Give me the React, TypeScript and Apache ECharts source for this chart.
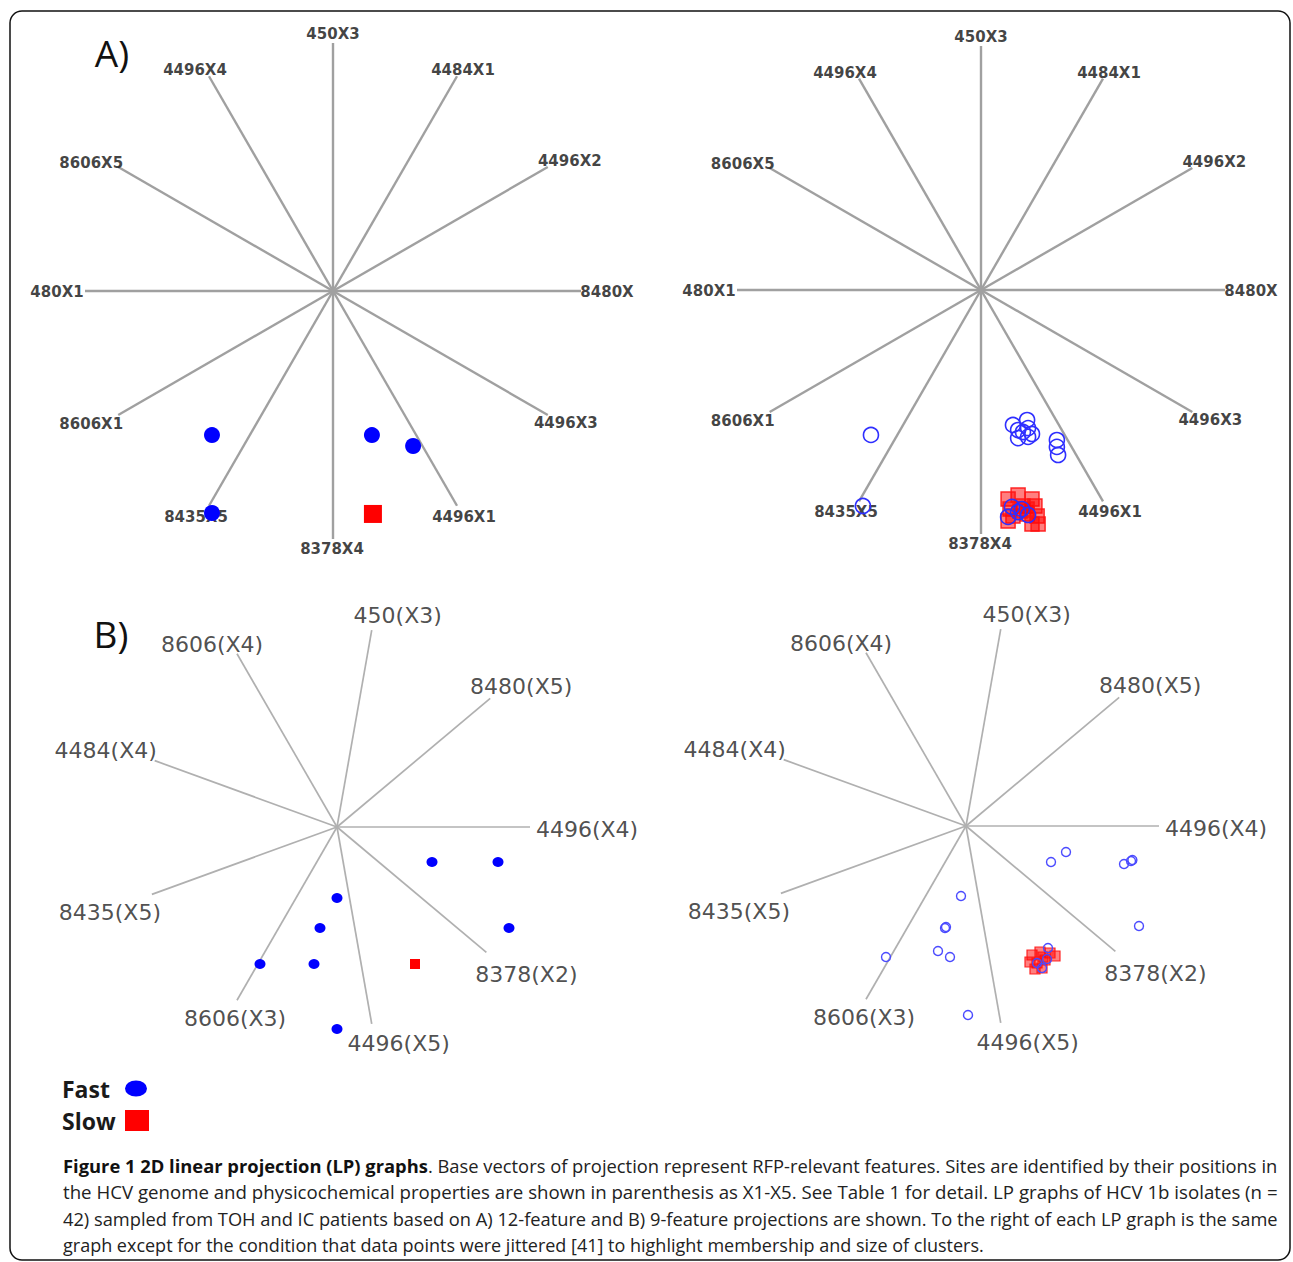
import React, { useEffect, useRef } from 'react';
import * as echarts from 'echarts';

// ---------- DATA ----------
// Panel A: 12 base vectors (angle in degrees, length in projection units)
const labelsA = ['8480X', '4496X2', '4484X1', '450X3', '4496X4', '8606X5', '480X1', '8606X1', '8435X5', '8378X4', '4496X1', '4496X3'];
const anglesA = [0, 30, 60, 90, 120, 150, 180, 210, 240, 270, 300, 330];
const lengthsA = [1, 1, 1, 1, 1, 1, 1, 1, 1, 1, 1, 1];

// Panel B: 9 base vectors
const labelsB = ['4496(X4)', '8480(X5)', '450(X3)', '8606(X4)', '4484(X4)', '8435(X5)', '8606(X3)', '4496(X5)', '8378(X2)'];
const anglesB = [0, 40, 80, 120, 160, 200, 240, 280, 320];
const lengthsB = [0.965, 1, 1, 1, 0.97, 0.985, 1, 1, 0.975];

// Projected isolates, panel A (12-feature)
const fastA = [[-0.488, -0.581], [0.157, -0.581], [0.323, -0.625], [-0.488, -0.895]];
const slowA = [[0.161, -0.899]];

// Panel A, jittered
const fastAJ = [
  [-0.451, -0.594], [-0.484, -0.885],
  [0.131, -0.553], [0.189, -0.533], [0.152, -0.574], [0.193, -0.566], [0.209, -0.59], [0.152, -0.607], [0.193, -0.602], [0.172, -0.582],
  [0.311, -0.615], [0.311, -0.643], [0.316, -0.676],
  [0.127, -0.889], [0.168, -0.898], [0.193, -0.922], [0.111, -0.93], [0.152, -0.91],
];
const slowAJ = [
  [0.152, -0.84], [0.111, -0.857], [0.209, -0.857], [0.119, -0.898], [0.172, -0.885], [0.221, -0.885], [0.131, -0.926],
  [0.189, -0.918], [0.23, -0.926], [0.111, -0.947], [0.209, -0.959], [0.234, -0.959], [0.16, -0.906], [0.189, -0.898],
];

// Projected isolates, panel B (9-feature)
const fastB = [[0.475, -0.175], [0.805, -0.175], [0, -0.355], [-0.085, -0.505], [0.86, -0.505], [-0.385, -0.685], [-0.115, -0.685], [0, -1.01]];
const slowB = [[0.39, -0.685]];

// Panel B, jittered
const fastBJ = [
  [0.425, -0.18], [0.5, -0.13], [0.79, -0.19], [0.825, -0.175], [0.832, -0.17], [-0.025, -0.35], [-0.105, -0.51], [-0.1, -0.505],
  [-0.14, -0.625], [-0.08, -0.655], [-0.4, -0.655], [0.865, -0.5], [0.01, -0.945],
  [0.41, -0.61], [0.405, -0.665], [0.355, -0.685], [0.38, -0.71],
];
const slowBJ = [
  [0.33, -0.645], [0.37, -0.63], [0.445, -0.65], [0.32, -0.68], [0.355, -0.685], [0.395, -0.67], [0.345, -0.715],
  [0.38, -0.71], [0.42, -0.635], [0.385, -0.655],
];

const captionBold = 'Figure 1 2D linear projection (LP) graphs';
const captionLines = [
  '. Base vectors of projection represent RFP-relevant features. Sites are identified by their positions in',
  'the HCV genome and physicochemical properties are shown in parenthesis as X1-X5. See Table 1 for detail. LP graphs of HCV 1b isolates (n =',
  '42) sampled from TOH and IC patients based on A) 12-feature and B) 9-feature projections are shown. To the right of each LP graph is the same',
  'graph except for the condition that data points were jittered [41] to highlight membership and size of clusters.',
];

// ---------- LAYOUT (pixels) ----------
const panelLayout = [
  { cx: 333, cy: 291, unit: 248 },
  { cx: 981, cy: 290, unit: 244 },
  { cx: 337, cy: 827, unit: 200 },
  { cx: 966, cy: 826, unit: 200 },
];
const labelOffsetsA = [[26, 1], [22, -6], [6, -6], [0, -9], [-14, -6], [-27, -4], [-28, 1], [-27, 9], [-13, 11], [-1, 10], [7, 11], [18, 8]];
const labelOffsetsB = [[57, 2], [31, -12], [26, -15], [-25, -9], [-49, -10], [-42, 18], [-2, 18], [27, 20], [40, 22]];
const SPAN = 1.1;
const CAPTION_WIDTH = 1215;

export default function App() {
  const ref = useRef<HTMLDivElement>(null);
  useEffect(() => {
    document.body.style.margin = '0';
    const chart = echarts.init(ref.current!, undefined, { renderer: 'svg' });

    const grids = panelLayout.map((p) => ({
      left: p.cx - p.unit * SPAN,
      top: p.cy - p.unit * SPAN,
      width: 2 * p.unit * SPAN,
      height: 2 * p.unit * SPAN,
    }));
    const axisCfg = panelLayout.map((_, i) => ({
      type: 'value', gridIndex: i, min: -SPAN, max: SPAN, show: false,
    }));

    const rad = (d: number) => (d * Math.PI) / 180;
    const baseVectors = (i: number, labels: string[], angles: number[], lengths: number[], offsets: number[][], isA: boolean) => {
      const ends = angles.map((a, j) => [lengths[j] * Math.cos(rad(a)), lengths[j] * Math.sin(rad(a))]);
      return [
        {
          type: 'lines', coordinateSystem: 'cartesian2d', xAxisIndex: i, yAxisIndex: i, silent: true, z: 1, clip: false,
          lineStyle: { color: isA ? '#a0a0a0' : '#b0b0b0', width: isA ? 2.4 : 1.7, opacity: 1 },
          data: ends.map((e) => ({ coords: [[0, 0], e] })),
        },
        {
          type: 'scatter', xAxisIndex: i, yAxisIndex: i, silent: true, z: 2, clip: false, symbolSize: 1,
          itemStyle: { color: 'rgba(0,0,0,0)' },
          label: {
            show: true, position: 'inside', formatter: '{b}',
            fontFamily: 'DejaVu Sans', fontSize: isA ? 15 : 22, fontWeight: isA ? 'bold' : 'normal', color: isA ? '#111' : '#222',
          },
          data: ends.map((e, j) => ({ name: labels[j], value: e, label: { offset: offsets[j] } })),
        },
      ];
    };

    const series: any[] = [
      ...baseVectors(0, labelsA, anglesA, lengthsA, labelOffsetsA, true),
      ...baseVectors(1, labelsA, anglesA, lengthsA, labelOffsetsA, true),
      ...baseVectors(2, labelsB, anglesB, lengthsB, labelOffsetsB, false),
      ...baseVectors(3, labelsB, anglesB, lengthsB, labelOffsetsB, false),
      // Panel A
      { name: 'Slow', type: 'scatter', xAxisIndex: 0, yAxisIndex: 0, z: 3, clip: false, symbol: 'rect', symbolSize: 18, itemStyle: { color: '#ff0000', opacity: 1 }, data: slowA },
      { name: 'Fast', type: 'scatter', xAxisIndex: 0, yAxisIndex: 0, z: 3, clip: false, symbol: 'circle', symbolSize: 16, itemStyle: { color: '#0000ff', opacity: 1 }, data: fastA },
      // Panel A jittered
      { name: 'Slow (jittered A)', type: 'scatter', xAxisIndex: 1, yAxisIndex: 1, z: 3, clip: false, symbol: 'rect', symbolSize: 14, itemStyle: { color: 'rgba(255,0,0,0.5)', borderColor: 'rgba(255,20,20,0.9)', borderWidth: 1.5, opacity: 1 }, data: slowAJ },
      { name: 'Fast (jittered A)', type: 'scatter', xAxisIndex: 1, yAxisIndex: 1, z: 4, clip: false, symbol: 'circle', symbolSize: 15, itemStyle: { color: 'rgba(0,0,0,0)', borderColor: '#2f2fff', borderWidth: 1.6, opacity: 1 }, data: fastAJ },
      // Panel B
      { name: 'Slow (B)', type: 'scatter', xAxisIndex: 2, yAxisIndex: 2, z: 3, clip: false, symbol: 'rect', symbolSize: 10, itemStyle: { color: '#ff0000', opacity: 1 }, data: slowB },
      { name: 'Fast (B)', type: 'scatter', xAxisIndex: 2, yAxisIndex: 2, z: 3, clip: false, symbol: 'circle', symbolSize: [11, 10], itemStyle: { color: '#0000ff', opacity: 1 }, data: fastB },
      // Panel B jittered
      { name: 'Slow (jittered B)', type: 'scatter', xAxisIndex: 3, yAxisIndex: 3, z: 3, clip: false, symbol: 'rect', symbolSize: 10, itemStyle: { color: 'rgba(255,0,0,0.5)', borderColor: 'rgba(255,20,20,0.9)', borderWidth: 1.2, opacity: 1 }, data: slowBJ },
      { name: 'Fast (jittered B)', type: 'scatter', xAxisIndex: 3, yAxisIndex: 3, z: 4, clip: false, symbol: 'circle', symbolSize: 9, itemStyle: { color: 'rgba(0,0,0,0)', borderColor: '#4a4aff', borderWidth: 1.4, opacity: 1 }, data: fastBJ },
    ];

    // Fit caption lines to the justified column width (only the last line is left ragged)
    const ctx = document.createElement('canvas').getContext('2d')!;
    const measure = (t: string, size: number, bold: boolean) => {
      ctx.font = `${bold ? 'bold ' : ''}${size}px "Open Sans"`;
      return ctx.measureText(t).width;
    };
    const BASE = 18;
    const fit = (w: number) => Math.max(17, Math.min(19.5, (BASE * CAPTION_WIDTH) / w));
    const size0 = fit(measure(captionBold, BASE, true) + measure(captionLines[0], BASE, false));
    const sizes = [size0, fit(measure(captionLines[1], BASE, false)), fit(measure(captionLines[2], BASE, false)), BASE];
    const captionY = [1165, 1191.5, 1218, 1244.5];

    // Legend: texts left-aligned at x=63, icons in a column starting at x=126
    const LEGEND_FONT = 23;
    const iconStart = 126;
    const legendText = { fontFamily: 'Open Sans', fontWeight: 'bold', fontSize: LEGEND_FONT, color: '#1a1a1a' };
    const gapFor = (name: string) => Math.max(0, iconStart - 63 - measure(name, LEGEND_FONT, true) - 5);

    chart.setOption({
      animation: false,
      backgroundColor: '#ffffff',
      grid: grids,
      xAxis: axisCfg,
      yAxis: axisCfg,
      legend: [
        {
          data: [{ name: 'Fast', icon: 'path://M0,8a11,8 0 1,0 22,0a11,8 0 1,0 -22,0z' }],
          left: 57, top: 1072, align: 'right', itemWidth: 22, itemHeight: 16, selectedMode: false,
          textStyle: { ...legendText, padding: [0, gapFor('Fast'), 0, 0] },
        },
        {
          data: [{ name: 'Slow', icon: 'rect' }],
          left: 57, top: 1104, align: 'right', itemWidth: 24, itemHeight: 21, selectedMode: false,
          textStyle: { ...legendText, padding: [0, gapFor('Slow'), 0, 0] },
        },
      ],
      graphic: [
        { type: 'rect', shape: { x: 10, y: 11, width: 1280, height: 1249, r: 12 }, style: { fill: 'none', stroke: '#111', lineWidth: 1.5 }, silent: true, z: -1 },
        { type: 'text', style: { text: 'A)', x: 112, y: 52, align: 'center', verticalAlign: 'middle', fontFamily: 'Open Sans', fontSize: 37, fill: '#111' } },
        { type: 'text', style: { text: 'B)', x: 111, y: 633, align: 'center', verticalAlign: 'middle', fontFamily: 'Open Sans', fontSize: 37, fill: '#111' } },
        {
          type: 'text',
          style: {
            x: 63, y: captionY[0], verticalAlign: 'middle',
            text: `{b|${captionBold}}{n|${captionLines[0]}}`,
            rich: {
              b: { fontFamily: 'Open Sans', fontSize: sizes[0], fontWeight: 'bold', fill: '#111' },
              n: { fontFamily: 'Open Sans', fontSize: sizes[0], fill: '#222' },
            },
          },
        },
        ...captionLines.slice(1).map((t, k) => ({
          type: 'text',
          style: { x: 63, y: captionY[k + 1], verticalAlign: 'middle', text: t, fontFamily: 'Open Sans', fontSize: sizes[k + 1], fill: '#222' },
        })),
      ],
      series,
    });
    return () => chart.dispose();
  }, []);
  return <div ref={ref} style={{ width: 1293, height: 1262 }} />;
}
